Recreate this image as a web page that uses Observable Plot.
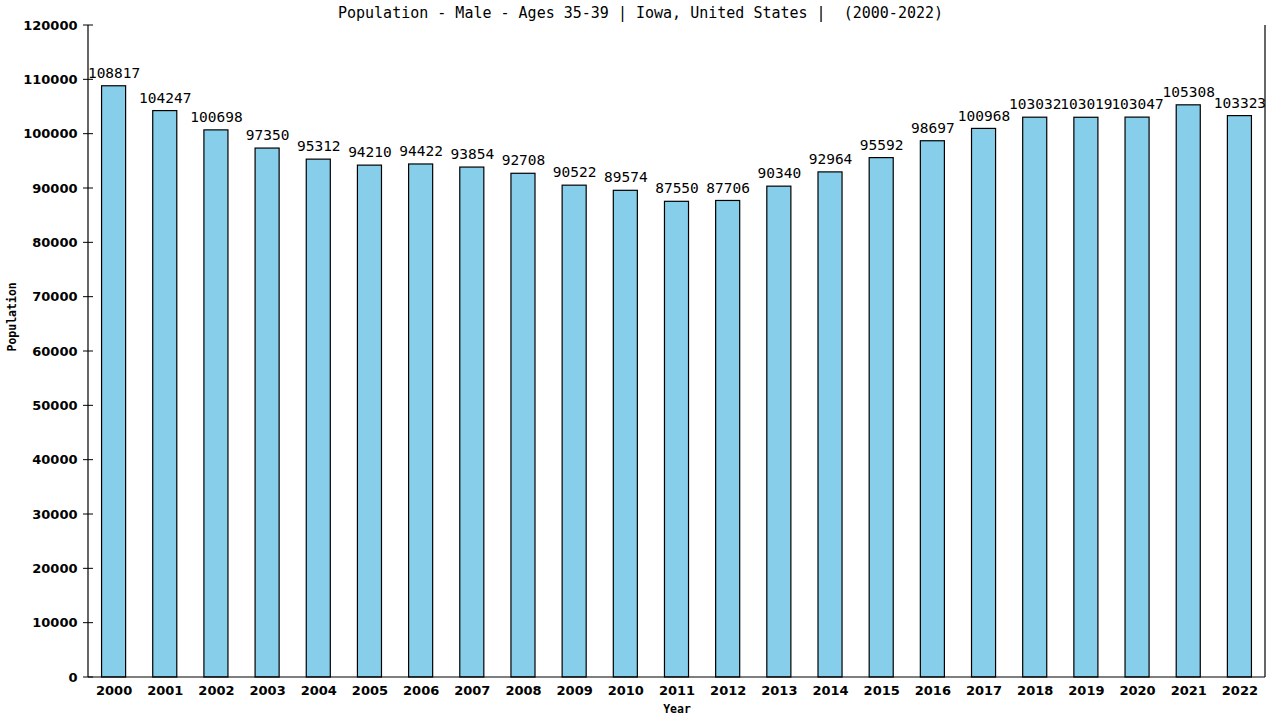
<!DOCTYPE html>
<html>
<head>
<meta charset="utf-8">
<script src="https://cdn.jsdelivr.net/npm/d3@7"></script>
<script src="https://cdn.jsdelivr.net/npm/@observablehq/plot@0.6"></script>
<style>
  html, body { margin: 0; padding: 0; background: #fff; }
  #chart svg { display: block; }
</style>
</head>
<body>
<div id="chart"></div>
<script>
const years = ["2000","2001","2002","2003","2004","2005","2006","2007","2008","2009","2010","2011","2012","2013","2014","2015","2016","2017","2018","2019","2020","2021","2022"];
const population = [108817,104247,100698,97350,95312,94210,94422,93854,92708,90522,89574,87550,87706,90340,92964,95592,98697,100968,103032,103019,103047,105308,103323];
const yTicks = [0,10000,20000,30000,40000,50000,60000,70000,80000,90000,100000,110000,120000];
const title = "Population - Male - Ages 35-39 | Iowa, United States |  (2000-2022)";

const data = years.map((y, i) => ({year: y, value: population[i]}));
const mono = "'DejaVu Sans Mono', 'Liberation Mono', monospace";

// frame lines (left, right, bottom) and y ticks crossing the left axis, from the scales
function frameLines(index, scales, values, dim) {
  const g = d3.create("svg:g").attr("stroke", "#000").attr("stroke-width", 1.2);
  const x0 = dim.marginLeft, x1 = dim.width - dim.marginRight;
  const y0 = dim.marginTop, y1 = dim.height - dim.marginBottom;
  g.append("line").attr("x1", x0).attr("x2", x0).attr("y1", y0).attr("y2", y1);
  g.append("line").attr("x1", x1).attr("x2", x1).attr("y1", y0).attr("y2", y1);
  g.append("line").attr("x1", x0).attr("x2", x1).attr("y1", y1).attr("y2", y1);
  for (const t of yTicks) {
    const y = scales.y(t);
    g.append("line").attr("x1", x0 - 5).attr("x2", x0 + 5).attr("y1", y).attr("y2", y).attr("stroke-width", 1);
  }
  return g.node();
}

const chart = Plot.plot({
  width: 1280,
  height: 720,
  marginLeft: 88,
  marginRight: 15,
  marginTop: 25,
  marginBottom: 43,
  style: {fontFamily: "'DejaVu Sans', Verdana, sans-serif", fontSize: "13px", background: "#fff", color: "#000"},
  x: {domain: years, paddingInner: 0.53, paddingOuter: 0.265, round: false, label: null},
  y: {domain: [0, 120000], label: null},
  marks: [
    Plot.barY(data, {x: "year", y: "value", fill: "#87ceeb", stroke: "#000", strokeWidth: 1.2}),
    Plot.text(data, {x: "year", y: "value", text: d => String(d.value), dy: -13, fontFamily: mono, fontSize: 14.5, fill: "#000"}),
    Plot.axisY({ticks: yTicks, tickFormat: d => String(d), tickSize: 0, tickPadding: 11, fontWeight: "bold", fontSize: 13, label: null}),
    Plot.axisX({tickSize: 0, tickPadding: 8, fontWeight: "bold", fontSize: 13, label: null}),
    frameLines,
    Plot.text([title], {frameAnchor: "top", lineAnchor: "middle", dy: -12, dx: -36.5, fontFamily: mono, fontSize: 15, fill: "#000"}),
    Plot.text(["Population"], {frameAnchor: "left", dx: -76, rotate: -90, fontFamily: mono, fontSize: 11.5, fontWeight: "bold", fill: "#000"}),
    Plot.text(["Year"], {frameAnchor: "bottom", lineAnchor: "middle", dy: 32, fontFamily: mono, fontSize: 11.5, fontWeight: "bold", fill: "#000"})
  ]
});

document.getElementById("chart").appendChild(chart);
</script>
</body>
</html>
